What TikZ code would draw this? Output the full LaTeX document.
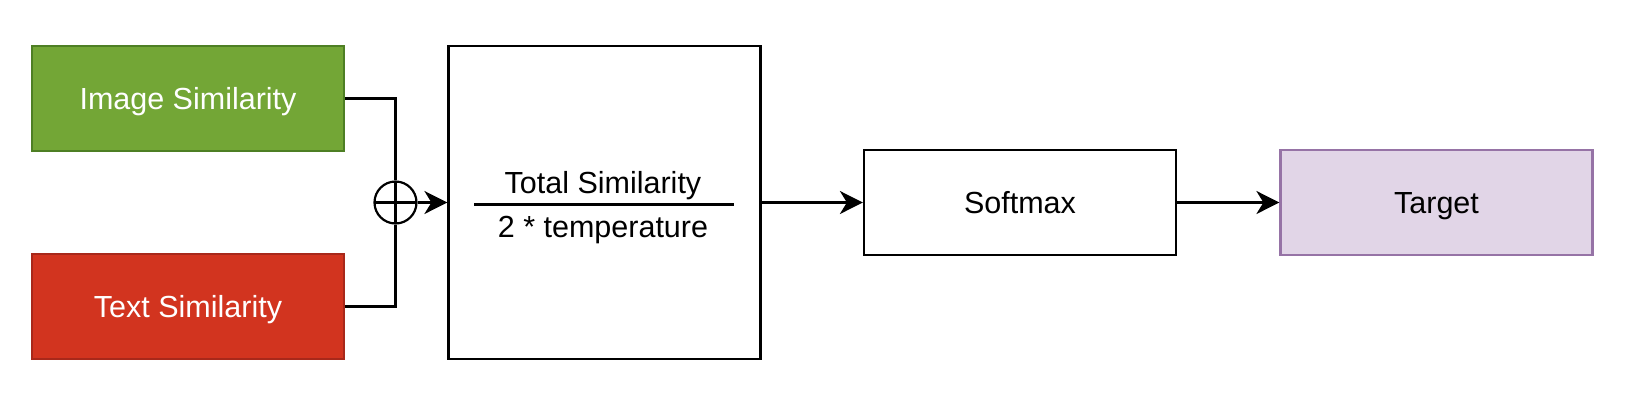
\documentclass[tikz,border=0pt]{standalone}
\usepackage{fontspec}
\setmainfont{Liberation Sans}
\usetikzlibrary{arrows.meta}
\definecolor{gfill}{HTML}{73A636}
\definecolor{gline}{HTML}{4E7F24}
\definecolor{rfill}{HTML}{D2341F}
\definecolor{rline}{HTML}{A8281A}
\definecolor{pfill}{HTML}{E1D5E7}
\definecolor{pline}{HTML}{9673A6}
\begin{document}
\begin{tikzpicture}[x=1pt,y=-1pt,
  box/.style={draw,line width=2.2pt,minimum width=312pt,minimum height=105pt,inner sep=0pt,
    text height=22pt,text depth=0pt,font=\fontsize{30.5}{36}\selectfont},
  conn/.style={line width=2.2pt},
  arr/.style={line width=2.2pt,-{Stealth[length=23pt,width=23pt,inset=7pt]}},
  lbl/.style={font=\fontsize{30.5}{36}\selectfont,inner sep=0pt,anchor=base}]
\useasboundingbox (0,0) rectangle (1628,402);
\node[box,fill=gfill,draw=gline,text=white] (img) at (188,98.5) {Image Similarity};
\node[box,fill=rfill,draw=rline,text=white] (txt) at (188,306.5) {Text Similarity};
\node[box,minimum height=313pt] (big) at (604.5,202.5) {};
\node[box] (soft) at (1020,202.5) {Softmax};
\node[box,fill=pfill,draw=pline] (tgt) at (1436.5,202.5) {Target};
\node[circle,draw,line width=2.2pt,minimum size=42pt,inner sep=0pt,
  path picture={\draw[line width=2.2pt] (path picture bounding box.west)--(path picture bounding box.east)
    (path picture bounding box.north)--(path picture bounding box.south);}] (sum) at (395.5,202.5) {};
\node[lbl] (num) at (603,193) {Total Similarity};
\node[lbl] (den) at (603,237) {2 * temperature};
\coordinate (fl) at (474,204.5);
\coordinate (fr) at (734,204.5);
\draw[conn] (fl) -- (fr);
\draw[conn] (img.east) -| (sum.north);
\draw[conn] (txt.east) -| (sum.south);
\draw[arr] (sum.east) -- (big.west);
\draw[arr] (big.east) -- (soft.west);
\draw[arr] (soft.east) -- (tgt.west);
\end{tikzpicture}
\end{document}
